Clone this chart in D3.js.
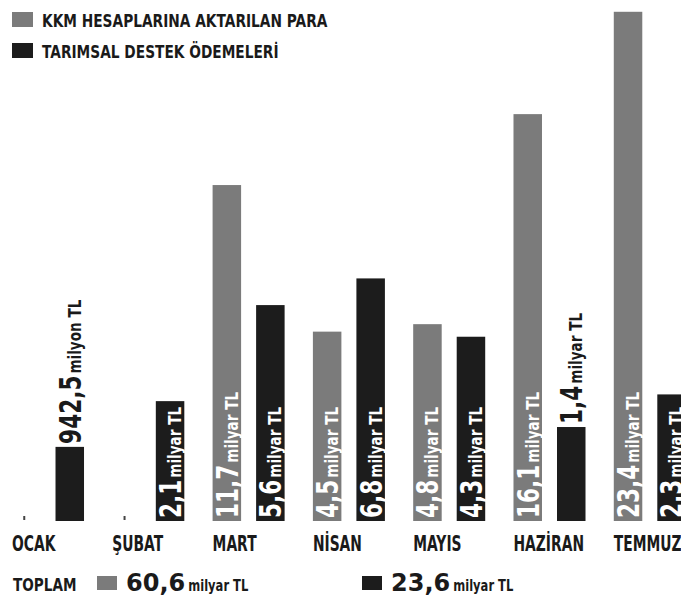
<!DOCTYPE html>
<html>
<head>
<meta charset="utf-8">
<script src="https://cdn.jsdelivr.net/npm/d3@7"></script>
<style>
  body { margin: 0; background: #fff; }
  svg { display: block; }
</style>
</head>
<body>
<svg id="chart"></svg>
<script>
// KKM vs tarımsal destek — monthly bars, Ocak..Temmuz (milyar TL)
const months = ["OCAK", "ŞUBAT", "MART", "NİSAN", "MAYIS", "HAZİRAN", "TEMMUZ"];
const kkm = [0, 0, 11.7, 4.5, 4.8, 16.1, 23.4];
const tarim = [0.9425, 2.1, 5.6, 6.8, 4.3, 1.4, 2.3];
const seriesNames = ["KKM HESAPLARINA AKTARILAN PARA", "TARIMSAL DESTEK ÖDEMELERİ"];
const totals = [60.6, 23.6];

const W = 681, H = 603;
const FONT = "'DejaVu Sans', sans-serif";
const INK = "#1a1a1a";
const COLORS = { kkm: "#7b7b7b", tarim: "#1c1c1c" };
const baseY = 521;

const svg = d3.select("#chart").attr("width", W).attr("height", H);

const locale = d3.formatLocale({ decimal: ",", thousands: ".", grouping: [3], currency: ["", " TL"] });
const f1 = locale.format(".1f");

// heavy condensed look: bold sans squeezed along the text direction
function narrow(parent, x, y, size, str, f) {
  return parent.append("text")
    .attr("transform", `translate(${x},${y}) scale(${f},1)`)
    .attr("font-family", FONT)
    .attr("font-weight", "bold")
    .attr("font-size", size)
    .text(str);
}

const x0 = d3.scaleBand().domain(months).range([12, 685.8]).paddingInner(0.282).paddingOuter(0);
const x1 = d3.scaleBand().domain(["kkm", "tarim"]).range([0, x0.bandwidth()]).paddingInner(0.345);
// bars in the source are not linear; a power scale follows them closely
const y = d3.scalePow().exponent(0.6).domain([0, 24]).range([baseY, 4]);

const bars = [];
months.forEach((m, i) => {
  bars.push({ month: m, key: "kkm", value: kkm[i] });
  bars.push({ month: m, key: "tarim", value: tarim[i] });
});

const g = svg.append("g");

g.selectAll("rect.bar")
  .data(bars.filter(d => d.value > 0))
  .join("rect")
  .attr("class", "bar")
  .attr("x", d => x0(d.month) + x1(d.key))
  .attr("width", x1.bandwidth())
  .attr("y", d => y(d.value))
  .attr("height", d => baseY - y(d.value))
  .attr("fill", d => COLORS[d.key]);

// zero months: tiny tick on the baseline
g.selectAll("rect.zero")
  .data(bars.filter(d => d.value === 0))
  .join("rect")
  .attr("class", "zero")
  .attr("x", d => x0(d.month) + x1(d.key) + x1.bandwidth() / 2 - 3)
  .attr("width", 2)
  .attr("y", baseY - 5)
  .attr("height", 4)
  .attr("fill", "#444");

// value labels, rotated; white inside the bar, dark above it when too long
const numSize = 30, numSq = 0.72, capOff = numSize * 0.729 / 2;
bars.filter(d => d.value > 0).forEach(d => {
  const cx = x0(d.month) + x1(d.key) + x1.bandwidth() / 2;
  const small = d.value < 1;
  const lab = g.append("g");
  const num = narrow(lab, 0, 0, numSize, f1(small ? d.value * 1000 : d.value), numSq);
  const numLen = num.node().getComputedTextLength() * numSq;
  const unit = narrow(lab, numLen + 2, 0, 17, small ? "milyon TL" : "milyar TL", 0.8);
  const len = numLen + 2 + unit.node().getComputedTextLength() * 0.8;
  const barH = baseY - y(d.value);
  const inside = len + 4 <= barH;
  const ty = inside ? baseY - 3 : y(d.value) - 3;
  lab.attr("transform", `translate(${cx + capOff},${ty}) rotate(-90)`)
    .attr("fill", inside ? "#fff" : INK);
});

// month labels
months.forEach(m => {
  narrow(g, x0(m), 551, 21, m, 0.66).attr("fill", INK);
});

// legend
const leg = svg.append("g");
["kkm", "tarim"].forEach((k, i) => {
  leg.append("rect").attr("x", 12).attr("y", 12 + i * 31).attr("width", 21).attr("height", 15).attr("fill", COLORS[k]);
  narrow(leg, 42, 27 + i * 31, 18, seriesNames[i], 0.764).attr("fill", INK);
});

// totals row
const tot = svg.append("g");
narrow(tot, 13, 591, 17, "TOPLAM", 0.8).attr("fill", INK);
const totX = [97, 362];
["kkm", "tarim"].forEach((k, i) => {
  tot.append("rect").attr("x", totX[i]).attr("y", 576).attr("width", 20).attr("height", 14).attr("fill", COLORS[k]);
  const t = tot.append("text")
    .attr("x", totX[i] + 29).attr("y", 591)
    .attr("font-family", FONT).attr("font-weight", "bold").attr("font-size", 24)
    .attr("fill", INK)
    .text(f1(totals[i]));
  const tl = t.node().getComputedTextLength();
  narrow(tot, totX[i] + 29 + tl + 3, 591, 16, "milyar TL", 0.72).attr("fill", INK);
});
</script>
</body>
</html>
